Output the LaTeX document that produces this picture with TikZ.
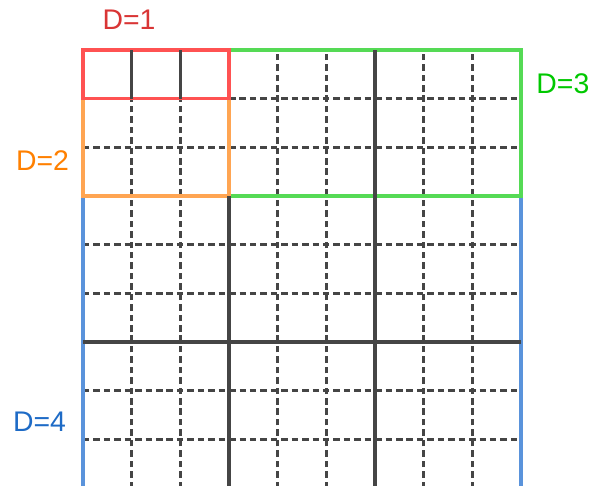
\documentclass[tikz,border=0pt]{standalone}
\usepackage{fontspec}
\setmainfont{Liberation Sans}
\usepackage{tikz}

\definecolor{dred}{HTML}{D93535}
\definecolor{lred}{HTML}{FF5252}
\definecolor{dorange}{HTML}{FF8000}
\definecolor{lorange}{HTML}{FFA552}
\definecolor{dgreen}{HTML}{00C800}
\definecolor{lgreen}{HTML}{55DA55}
\definecolor{dblue}{HTML}{1E6BC6}
\definecolor{lblue}{HTML}{5A93DB}
\definecolor{gridgray}{HTML}{454545}

\begin{document}
\begin{tikzpicture}[
  dashline/.style={gridgray, line width=1.8pt, dash pattern=on 3.8pt off 2.3pt},
  solidline/.style={gridgray, line width=1.8pt},
  border/.style={line width=2pt},
  dlabel/.style={font=\fontsize{16.6}{18}\selectfont, inner sep=0pt}
]
\useasboundingbox (-1.705,0.047) rectangle (10.458,10.027);

% dashed grid lines
\draw[dashline] (1,0) -- (1,8);
\draw[dashline] (2,0) -- (2,8);
\draw[dashline] (4,0) -- (4,9);
\draw[dashline] (5,0) -- (5,9);
\draw[dashline] (7,0) -- (7,9);
\draw[dashline] (8,0) -- (8,9);
\draw[dashline] (3,8) -- (9,8);
\draw[dashline] (0,7) -- (9,7);
\draw[dashline] (0,5) -- (9,5);
\draw[dashline] (0,4) -- (9,4);
\draw[dashline] (0,2) -- (9,2);
\draw[dashline] (0,1) -- (9,1);

% coloured blocks
\draw[border, lblue] (0,6) -- (0,-0.2) -- (9,-0.2) -- (9,6);
\draw[border, lgreen] (3,6) rectangle (9,9);
\draw[border, lorange] (0,6) rectangle (3,8);
\draw[border, lred] (0,8) rectangle (3,9);

% solid grid lines
\draw[solidline] (1,8) -- (1,9);
\draw[solidline] (2,8) -- (2,9);
\draw[solidline] (3,-0.2) -- (3,6);
\draw[solidline] (6,-0.2) -- (6,9);
\draw[solidline] (0,3) -- (9,3);

% labels
\node[dlabel, text=dred] (d1) at (0.945,9.616) {D=1};
\node[dlabel, text=dorange] (d2) at (-0.832,6.72) {D=2};
\node[dlabel, text=dgreen] (d3) at (9.86,8.30) {D=3};
\node[dlabel, text=dblue] (d4) at (-0.894,1.37) {D=4};
\end{tikzpicture}
\end{document}
